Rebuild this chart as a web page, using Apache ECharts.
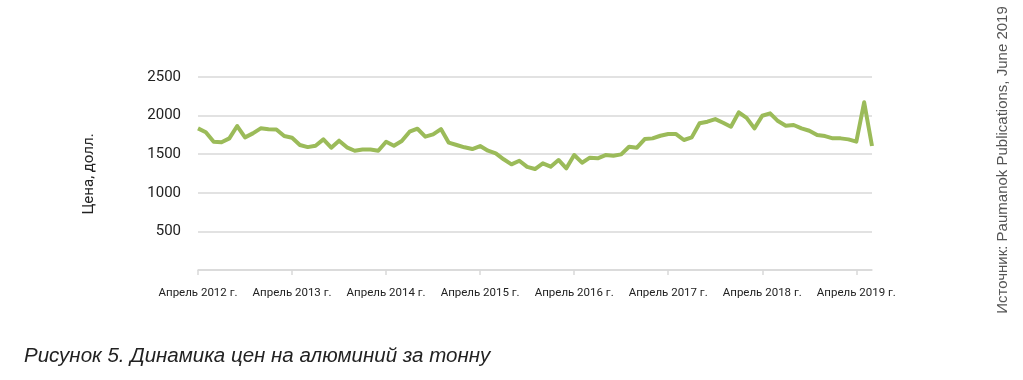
<!DOCTYPE html>
<html>
<head>
<meta charset="utf-8">
<script src="https://cdn.jsdelivr.net/npm/echarts@6/dist/echarts.min.js"></script>
<style>
html,body{margin:0;padding:0;background:#fff;}
#c{width:1023px;height:380px;}
</style>
</head>
<body>
<div id="c"></div>
<script>
// Monthly prices, April 2012 – June 2019 (USD per tonne)
var prices2012 = [1835, 1785, 1662, 1654, 1705, 1865, 1718, 1770, 1835]; // Apr–Dec
var prices2013 = [1822, 1820, 1735, 1713, 1619, 1592, 1610, 1692, 1584, 1675, 1589, 1545];
var prices2014 = [1560, 1560, 1545, 1662, 1610, 1671, 1791, 1830, 1727, 1757, 1826, 1649];
var prices2015 = [1619, 1589, 1567, 1606, 1545, 1511, 1434, 1369, 1415, 1335, 1308, 1382];
var prices2016 = [1338, 1425, 1317, 1489, 1390, 1455, 1447, 1489, 1480, 1498, 1597, 1584];
var prices2017 = [1696, 1705, 1739, 1761, 1761, 1684, 1718, 1900, 1921, 1955, 1908, 1856];
var prices2018 = [2042, 1970, 1835, 1998, 2029, 1929, 1869, 1878, 1835, 1804, 1748, 1735];
var prices2019 = [1705, 1705, 1692, 1662, 2172, 1606]; // Jan–Jun

var monthNames = ['Январь','Февраль','Март','Апрель','Май','Июнь','Июль','Август','Сентябрь','Октябрь','Ноябрь','Декабрь'];
var yTicks = [0, 500, 1000, 1500, 2000, 2500];

var values = [].concat(prices2012, prices2013, prices2014, prices2015, prices2016, prices2017, prices2018, prices2019);
var categories = [];
var y = 2012, m = 3;
for (var i = 0; i < values.length; i++) {
  categories.push(monthNames[m] + ' ' + y + ' г.');
  m++; if (m > 11) { m = 0; y++; }
}

var chart = echarts.init(document.getElementById('c'));
chart.setOption({
  animation: false,
  grid: {left: 198, right: 151, top: 77, bottom: 110, containLabel: false},
  xAxis: {
    type: 'category',
    data: categories,
    boundaryGap: false,
    axisLine: {lineStyle: {color: '#d9d9d9', width: 1.5}},
    axisTick: {show: true, interval: 11, length: 5, lineStyle: {color: '#d9d9d9', width: 1.5}},
    axisLabel: {interval: 11, margin: 17, fontFamily: 'Roboto', fontSize: 11.5, color: '#222'},
    splitLine: {show: false}
  },
  yAxis: {
    type: 'value',
    min: yTicks[0],
    max: yTicks[yTicks.length - 1],
    interval: 500,
    axisLine: {show: false},
    axisTick: {show: false},
    axisLabel: {
      margin: 17, fontFamily: 'Roboto', fontSize: 15, color: '#222',
      formatter: function (v) { return v === 0 ? '' : String(v); }
    },
    splitLine: {lineStyle: {color: '#d9d9d9', width: 1.5}}
  },
  series: [{
    type: 'line',
    data: values,
    symbol: 'none',
    lineStyle: {color: '#9bbb59', width: 4, join: 'round'},
    itemStyle: {color: '#9bbb59'}
  }],
  graphic: [
    {
      type: 'text', x: 89, y: 174, rotation: Math.PI / 2,
      style: {text: 'Цена, долл.', fontFamily: 'Roboto', fontSize: 15, fill: '#222', align: 'center', verticalAlign: 'middle'}
    },
    {
      type: 'text', x: 1003, y: 160, rotation: Math.PI / 2,
      style: {text: 'Источник: Paumanok Publications, June 2019', fontFamily: 'Liberation Sans', fontSize: 15, fill: '#555', align: 'center', verticalAlign: 'middle'}
    },
    {
      type: 'text', x: 24, y: 356,
      style: {text: 'Рисунок 5. Динамика цен на алюминий за тонну', fontFamily: 'Liberation Sans', fontStyle: 'italic', fontSize: 20.5, fill: '#222', align: 'left', verticalAlign: 'middle'}
    }
  ]
});
</script>
</body>
</html>
